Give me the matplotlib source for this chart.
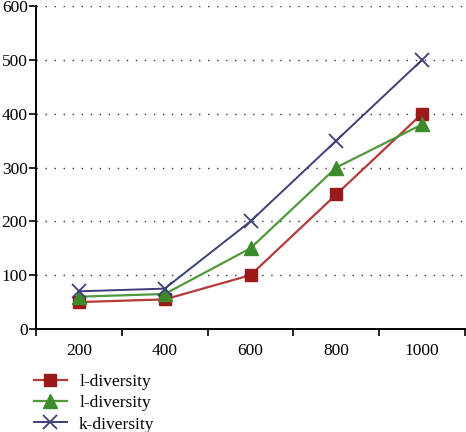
import matplotlib
matplotlib.use("Agg")
import matplotlib.pyplot as plt
import numpy as np

categories = ["200", "400", "600", "800", "1000"]
l_div_a = [50, 55, 100, 250, 400]
l_div_b = [60, 65, 150, 300, 380]
k_div = [70, 75, 200, 350, 500]
series_labels = ["l-diversity", "l-diversity", "k-diversity"]
y_ticks = [0, 100, 200, 300, 400, 500, 600]

plt.rcParams['font.family'] = ['Liberation Serif', 'DejaVu Serif']

fig = plt.figure(figsize=(4.66, 4.32), dpi=100)
ax = fig.add_axes([36/466, 103/432, 429/466, 323/432])

x = np.arange(len(categories))
h1, = ax.plot(x, l_div_a, color='#b53a3a', lw=1.6, marker='s', markersize=8.5,
              markerfacecolor='#9a1a1a', markeredgecolor='#9a1a1a', label=series_labels[0], zorder=3)
h2, = ax.plot(x, l_div_b, color='#4f9a3c', lw=1.6, marker='^', markersize=9.5,
              markerfacecolor='#3c8a2a', markeredgecolor='#3c8a2a', label=series_labels[1], zorder=3)
h3, = ax.plot(x, k_div, color='#3f3f7a', lw=1.4, marker='x', markersize=9.5, markeredgewidth=1.3,
              label=series_labels[2], zorder=3)

ax.set_xlim(-0.5, len(categories) - 0.5)
ax.set_ylim(0, 600)
ax.set_yticks(y_ticks)
ax.set_yticklabels([str(v) for v in y_ticks], fontsize=12.5)
ax.set_xticks(x)
ax.set_xticklabels(categories, fontsize=12.5)
ax.set_xticks(np.arange(-0.5, len(categories)), minor=True)
ax.tick_params(axis='x', which='major', length=0, pad=10)
ax.tick_params(axis='x', which='minor', length=5, width=1.2, direction='out')
ax.tick_params(axis='y', length=5, width=1.2, direction='out', pad=1)

for v in y_ticks[1:]:
    ax.axhline(v, color='#333333', lw=1.0, linestyle=(0, (1, 5.5)), zorder=1)

for s in ['top', 'right']:
    ax.spines[s].set_visible(False)
ax.spines['left'].set_linewidth(1.4)
ax.spines['bottom'].set_linewidth(1.4)

fig.legend(handles=[h1, h2, h3], loc='upper left', bbox_to_anchor=(34/466, 1 - 374/432),
           frameon=False, fontsize=12.5, handlelength=1.9, labelspacing=0.29,
           handletextpad=0.7, borderaxespad=0, borderpad=0)

fig.savefig("out.png", dpi=100)
